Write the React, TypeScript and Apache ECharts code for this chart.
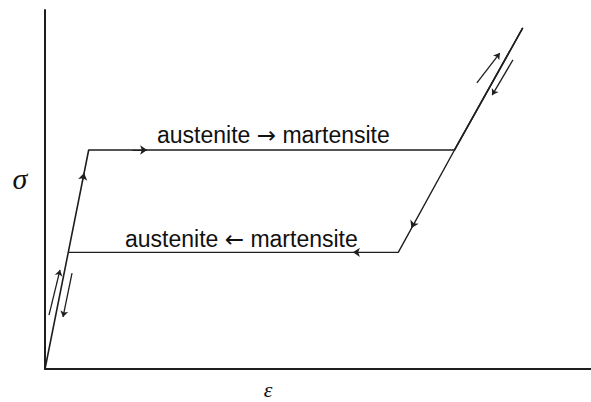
import React, { useEffect, useRef } from "react";
import * as echarts from "echarts";

// Stress–strain path of a superelastic (shape-memory) alloy, arbitrary units.
// Loading: elastic austenite -> forward transformation plateau -> elastic martensite.
const loadingStrain = [0, 8, 75, 87.5];
const loadingStress = [0, 61, 61, 95];
// Unloading: elastic martensite -> reverse transformation plateau -> elastic austenite.
const unloadingStrain = [87.5, 75, 64.7, 4.2];
const unloadingStress = [95, 61, 32.5, 32.5];

// Direction arrows drawn along the path: [fromStrain, fromStress, toStrain, toStress]
const pathArrows = [
  [6.82, 52, 7.16, 54.6],
  [16, 61, 18.7, 61],
  [67.4, 40.2, 67.1, 39.3],
  [59, 32.5, 56.4, 32.5],
];
// Short arrows drawn beside the elastic branches
const sideArrows = [
  [0.73, 15.0, 2.75, 27.6],
  [4.95, 26.7, 3.3, 14.5],
  [79.1, 79.7, 83.3, 88.0],
  [85.7, 86.1, 81.9, 76.3],
];

const forwardLabel = ["austenite ", "\u2192", " martensite"];
const reverseLabel = ["austenite ", "\u2190", " martensite"];

const ink = "#1e1e1e";
const labelFont = '23px "Liberation Sans", Arial, sans-serif';

export default function App() {
  const ref = useRef<HTMLDivElement>(null);

  useEffect(() => {
    const chart = echarts.init(ref.current!, null, { renderer: "svg" });
    const pairs = (xs: number[], ys: number[]) => xs.map((x, i) => [x, ys[i]]);
    const seg = (a: number[]) => ({ coords: [[a[0], a[1]], [a[2], a[3]]] });
    const rich = {
      w: { font: labelFont, fill: "#111" },
      arr: { font: '23px "DejaVu Sans", sans-serif', fill: "#111" },
    };
    const label = (parts: string[]) => `{w|${parts[0]}}{arr|${parts[1]}}{w|${parts[2]}}`;

    chart.setOption({
      animation: false,
      backgroundColor: "#ffffff",
      grid: { left: 45, right: 0, top: 10, bottom: 33 },
      xAxis: {
        type: "value",
        min: 0,
        max: 100,
        axisLine: { show: true, lineStyle: { color: ink, width: 2 } },
        axisTick: { show: false },
        axisLabel: { show: false },
        splitLine: { show: false },
      },
      yAxis: {
        type: "value",
        min: 0,
        max: 100,
        axisLine: { show: true, lineStyle: { color: ink, width: 2 } },
        axisTick: { show: false },
        axisLabel: { show: false },
        splitLine: { show: false },
      },
      series: [
        {
          type: "line",
          data: pairs(loadingStrain, loadingStress),
          showSymbol: false,
          lineStyle: { color: ink, width: 1.6 },
        },
        {
          type: "line",
          data: pairs(unloadingStrain, unloadingStress),
          showSymbol: false,
          lineStyle: { color: ink, width: 1.4 },
        },
        {
          type: "lines",
          coordinateSystem: "cartesian2d",
          symbol: ["none", "arrow"],
          symbolSize: [0, 7],
          lineStyle: { color: ink, width: 1, opacity: 1 },
          data: pathArrows.map(seg),
        },
        {
          type: "lines",
          coordinateSystem: "cartesian2d",
          symbol: ["none", "arrow"],
          symbolSize: [0, 6],
          lineStyle: { color: ink, width: 1.3, opacity: 1 },
          data: sideArrows.map(seg),
        },
      ],
      graphic: [
        {
          type: "text",
          x: 157,
          y: 146,
          style: {
            text: label(forwardLabel),
            rich,
            verticalAlign: "bottom",
          },
        },
        {
          type: "text",
          x: 125,
          y: 250,
          style: {
            text: label(reverseLabel),
            rich,
            verticalAlign: "bottom",
          },
        },
        {
          type: "text",
          x: 20,
          y: 178,
          style: {
            text: "\u03c3",
            font: 'italic 30px "Liberation Serif", "DejaVu Serif", serif',
            fill: "#111",
            align: "center",
            verticalAlign: "middle",
          },
        },
        {
          type: "text",
          x: 268,
          y: 389,
          style: {
            text: "\u03b5",
            font: 'italic 22px "Liberation Serif", "DejaVu Serif", serif',
            fill: "#111",
            align: "center",
            verticalAlign: "middle",
          },
        },
      ],
    });
    return () => chart.dispose();
  }, []);

  return (
    <div
      ref={ref}
      style={{ position: "absolute", left: 0, top: 0, width: 591, height: 402 }}
    />
  );
}
